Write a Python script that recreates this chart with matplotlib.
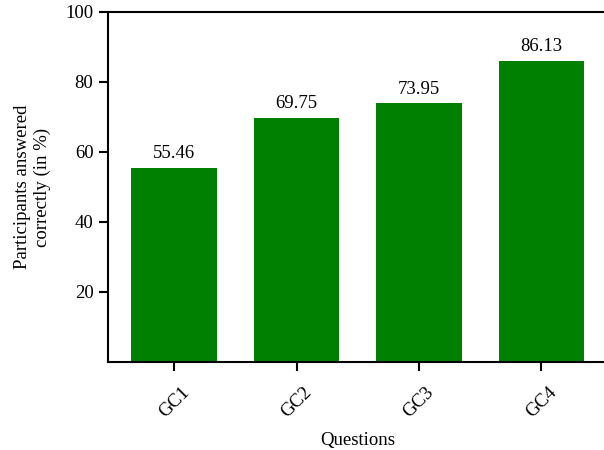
import matplotlib
matplotlib.use("Agg")
import matplotlib.pyplot as plt

questions = ["GC1", "GC2", "GC3", "GC4"]
percent_correct = [55.46, 69.75, 73.95, 86.13]
yticks = [20, 40, 60, 80, 100]

plt.rcParams['font.family'] = ['Liberation Serif', 'DejaVu Serif']
FS = 13.5

fig = plt.figure(figsize=(6.04, 4.5), dpi=100)
ax = fig.add_axes([108/604, 1-362/450, (607.6-108)/604, 350/450])
x = list(range(len(questions)))
bars = ax.bar(x, percent_correct, width=0.7, color="#008000")
for xi, v in zip(x, percent_correct):
    ax.annotate(f"{v:.2f}", (xi, v), xytext=(0, 4), textcoords="offset points",
                ha="center", va="bottom", fontsize=FS)
ax.set_xlim(-0.54, 3.54)
ax.set_ylim(0, 100)
ax.set_yticks(yticks)
ax.set_xticks(x)
ax.set_xticklabels(questions, rotation=45, fontsize=FS)
ax.tick_params(axis='y', labelsize=FS, length=6.5, width=1.5, pad=4)
ax.tick_params(axis='x', length=6.5, width=1.5, pad=9)
for s in ax.spines.values():
    s.set_linewidth(1.5)
ax.spines['right'].set_visible(False)
ax.set_xlabel("Questions", fontsize=FS, labelpad=8)
ax.set_ylabel("Participants answered\ncorrectly (in %)", fontsize=FS, labelpad=10)
fig.savefig("out.png", dpi=100)
